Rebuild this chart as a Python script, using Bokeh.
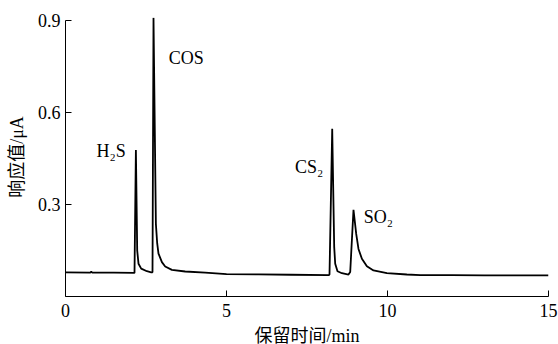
from bokeh.plotting import figure
from bokeh.models import Range1d, FixedTicker
from bokeh.core.properties import value
from bokeh.embed import file_html
from bokeh.resources import INLINE

# Chromatogram trace (retention time in min, response in μA)
time_min = [0.0, 0.77, 0.80, 0.83, 1.5, 2.13, 2.143, 2.186, 2.227, 2.267, 2.351, 2.528,
            2.661, 2.702, 2.733, 2.807, 2.848, 2.888, 2.994, 3.096, 3.304, 3.717,
            4.339, 5.0, 6.0, 7.0, 8.17, 8.199, 8.283, 8.345, 8.376, 8.447, 8.584,
            8.789, 8.842, 8.944, 9.028, 9.099, 9.205, 9.360, 9.565, 9.981, 10.60,
            11.02, 12.0, 13.0, 14.0, 15.0]
response = [0.079, 0.078, 0.081, 0.078, 0.078, 0.077, 0.077, 0.478, 0.150, 0.107, 0.091, 0.0825,
            0.079, 0.079, 0.909, 0.237, 0.173, 0.140, 0.112, 0.098, 0.087, 0.0815,
            0.078, 0.073, 0.072, 0.071, 0.0695, 0.0717, 0.547, 0.161, 0.107, 0.0825, 0.076,
            0.0717, 0.080, 0.283, 0.204, 0.155, 0.123, 0.099, 0.085, 0.076, 0.0717,
            0.070, 0.070, 0.069, 0.069, 0.069]

x_ticks = [0, 5, 10, 15]
y_ticks = [0.3, 0.6, 0.9]

peak_names = ["H\u2082S", "COS", "CS\u2082", "SO\u2082"]
peak_label_x = [1.42, 3.75, 7.57, 9.72]
peak_label_y = [0.476, 0.778, 0.421, 0.258]

SERIF = "'Liberation Serif', 'Noto Sans CJK SC'"

p = figure(width=558, height=344, output_backend="svg", toolbar_location=None,
           x_range=Range1d(0, 15), y_range=Range1d(0, 0.91),
           min_border_left=65, min_border_right=10, min_border_top=17, min_border_bottom=48)
p.frame_width = 483
p.frame_height = 279

p.outline_line_color = None
p.background_fill_color = "white"
p.border_fill_color = "white"
p.xgrid.visible = False
p.ygrid.visible = False

p.line(time_min, response, line_color="black", line_width=1.8)

p.text(x=peak_label_x, y=peak_label_y, text=peak_names,
       text_font=value(SERIF), text_font_size="18px",
       text_align="center", text_baseline="middle", text_color="black")

xa = p.xaxis[0]
xa.ticker = FixedTicker(ticks=x_ticks)
xa.bounds = (0, 15)
xa.axis_label = "保留时间/min"
ya = p.yaxis[0]
ya.ticker = FixedTicker(ticks=y_ticks)
ya.bounds = (0, 0.9)
ya.axis_label = "响应值/μA"

for ax in (xa, ya):
    ax.major_tick_in = 6
    ax.major_tick_out = 0
    ax.minor_tick_in = 0
    ax.minor_tick_out = 0
    ax.axis_line_color = "black"
    ax.axis_line_width = 1
    ax.major_tick_line_color = "black"
    ax.major_label_text_font = SERIF
    ax.major_label_text_font_size = "18px"
    ax.major_label_text_color = "black"
    ax.axis_label_text_font = SERIF
    ax.axis_label_text_font_size = "18px"
    ax.axis_label_text_font_style = "normal"
    ax.axis_label_text_color = "black"

xa.major_label_standoff = 7
xa.axis_label_standoff = 6
ya.major_label_standoff = 5
ya.axis_label_standoff = 8

open("out.html", "w").write(file_html(p, INLINE))
